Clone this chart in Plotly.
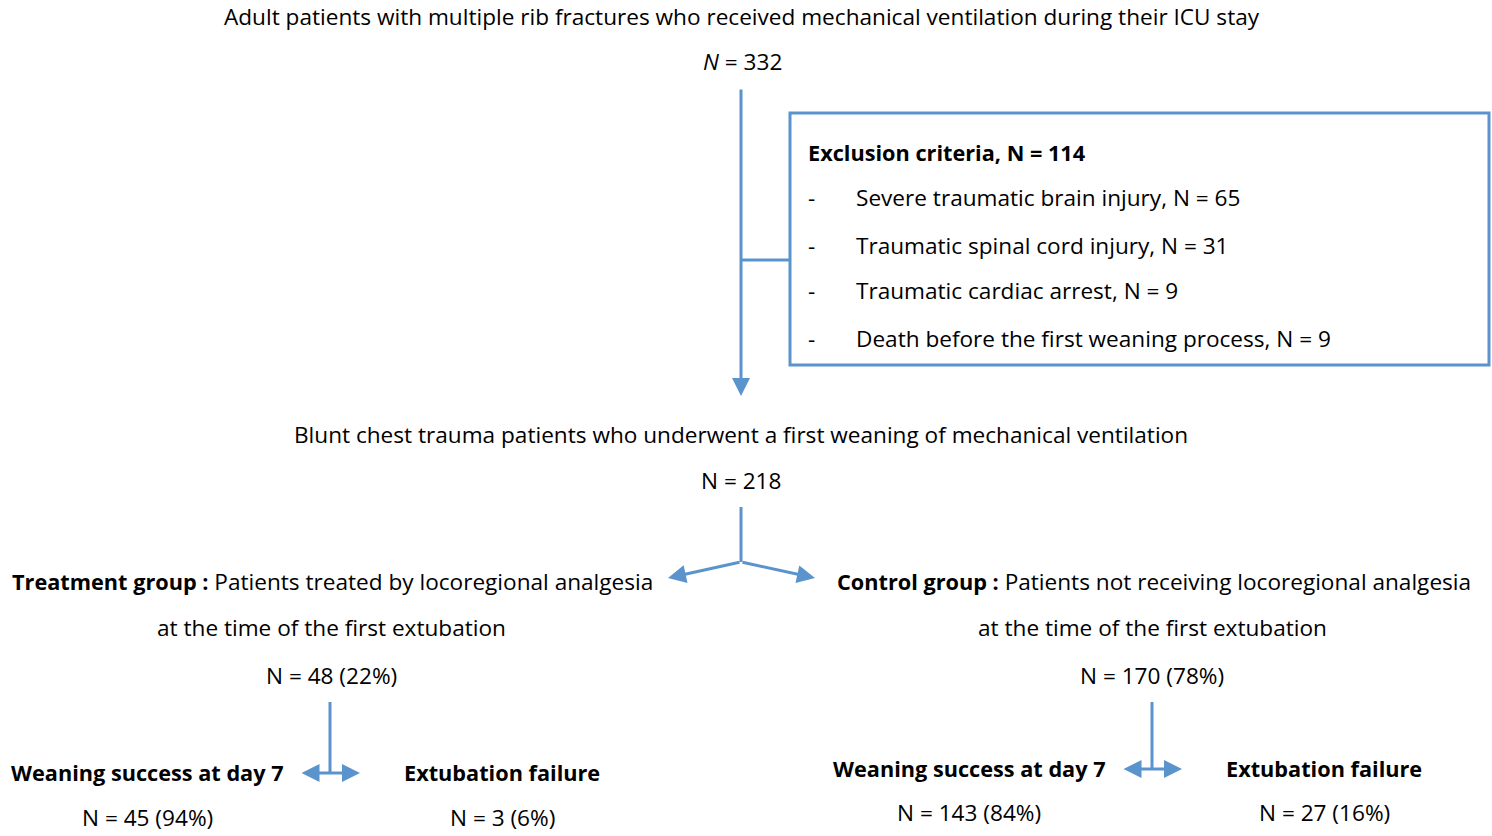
import plotly.graph_objects as go

# ---- data (texts and counts of the flow chart) ----
total_label = "Adult patients with multiple rib fractures who received mechanical ventilation during their ICU stay"
total_n = 332
excl_title = "Exclusion criteria"
excl_n = 114
excl_labels = ["Severe traumatic brain injury", "Traumatic spinal cord injury",
               "Traumatic cardiac arrest", "Death before the first weaning process"]
excl_counts = [65, 31, 9, 9]
included_label = "Blunt chest trauma patients who underwent a first weaning of mechanical ventilation"
included_n = 218
group_titles = ["Treatment group :", "Control group :"]
group_descs = ["Patients treated by locoregional analgesia", "Patients not receiving locoregional analgesia"]
group_line2 = "at the time of the first extubation"
group_n = [48, 170]
group_pct = [22, 78]
outcome_labels = ["Weaning success at day 7", "Extubation failure"]
outcome_n = [[45, 3], [143, 27]]
outcome_pct = [[94, 6], [84, 16]]

# ---- styling ----
W, H = 1492, 836
BLUE = "#5b93cc"
FONT = "Open Sans"
FS = 22.6     # regular text
FSB = 21.7    # bold text
LW = 3
DY = -1       # small vertical text nudge

fig = go.Figure()
fig.update_layout(width=W, height=H, margin=dict(l=0, r=0, t=0, b=0),
                  plot_bgcolor="white", paper_bgcolor="white", showlegend=False,
                  font=dict(family=FONT, size=FS, color="black"))
fig.update_xaxes(range=[0, W], visible=False, fixedrange=True)
fig.update_yaxes(range=[H, 0], visible=False, fixedrange=True)

def bold(s):
    return f'<span style="font-size:{FSB}px"><b>{s}</b></span>'

def text(x, y, s, anchor="center", size=FS):
    fig.add_annotation(x=x, y=y + DY, text=s, showarrow=False, xanchor=anchor, yanchor="middle",
                       font=dict(family=FONT, size=size, color="black"), xref="x", yref="y")

def line(x0, y0, x1, y1):
    fig.add_shape(type="line", x0=x0, y0=y0, x1=x1, y1=y1, xref="x", yref="y",
                  line=dict(color=BLUE, width=LW))

def arrow(x0, y0, x1, y1, both=False):
    fig.add_annotation(x=x1, y=y1, ax=x0, ay=y0, xref="x", yref="y", axref="x", ayref="y",
                       text="", showarrow=True, arrowhead=2, arrowsize=1.2, arrowwidth=LW,
                       arrowcolor=BLUE, arrowside="end+start" if both else "end",
                       standoff=0, startstandoff=0, startarrowhead=2, startarrowsize=1.2)

# top
text(742, 17, total_label)
text(742, 62, f"<i>N</i> = {total_n}")
arrow(741, 88, 741, 396)
line(741, 260, 790, 260)

# exclusion box
fig.add_shape(type="rect", x0=790, y0=113, x1=1489, y1=365, xref="x", yref="y",
              line=dict(color=BLUE, width=LW))
text(806, 153, bold(f"{excl_title}, N = {excl_n}"), anchor="left")
for i, (lab, c) in enumerate(zip(excl_labels, excl_counts)):
    y = [198, 246, 291, 339][i]
    text(806, y, "-", anchor="left")
    text(854, y, f"{lab}, N = {c}", anchor="left")

# included
text(741, 435, included_label)
text(741, 481, f"N = {included_n}")
line(741, 507, 741, 562)
arrow(741, 562, 668, 578)
arrow(741, 562, 815, 578)

# groups
gx = [331, 1152]
gleft = [10, 835]
for g in range(2):
    text(gleft[g], 582, f"{bold(group_titles[g])} {group_descs[g]}", anchor="left")
    text(gx[g], 628, group_line2)
    text(gx[g], 676, f"N = {group_n[g]} ({group_pct[g]}%)")

# outcomes
oy = [773, 769]
ny = [818, 813]
ocx = [[147, 502], [969, 1324]]
vx = [330, 1152]
for g in range(2):
    line(vx[g], 702, vx[g], oy[g])
    arrow(vx[g] - 30, oy[g], vx[g] + 30, oy[g], both=True)
    for k in range(2):
        text(ocx[g][k], oy[g], bold(outcome_labels[k]))
        text(ocx[g][k], ny[g], f"N = {outcome_n[g][k]} ({outcome_pct[g][k]}%)")

# remove the page's default body margin so the figure fills the window exactly
fig.write_html("out.html", config={"displayModeBar": False},
               post_script="document.body.style.margin='0';document.body.style.overflow='hidden';")
